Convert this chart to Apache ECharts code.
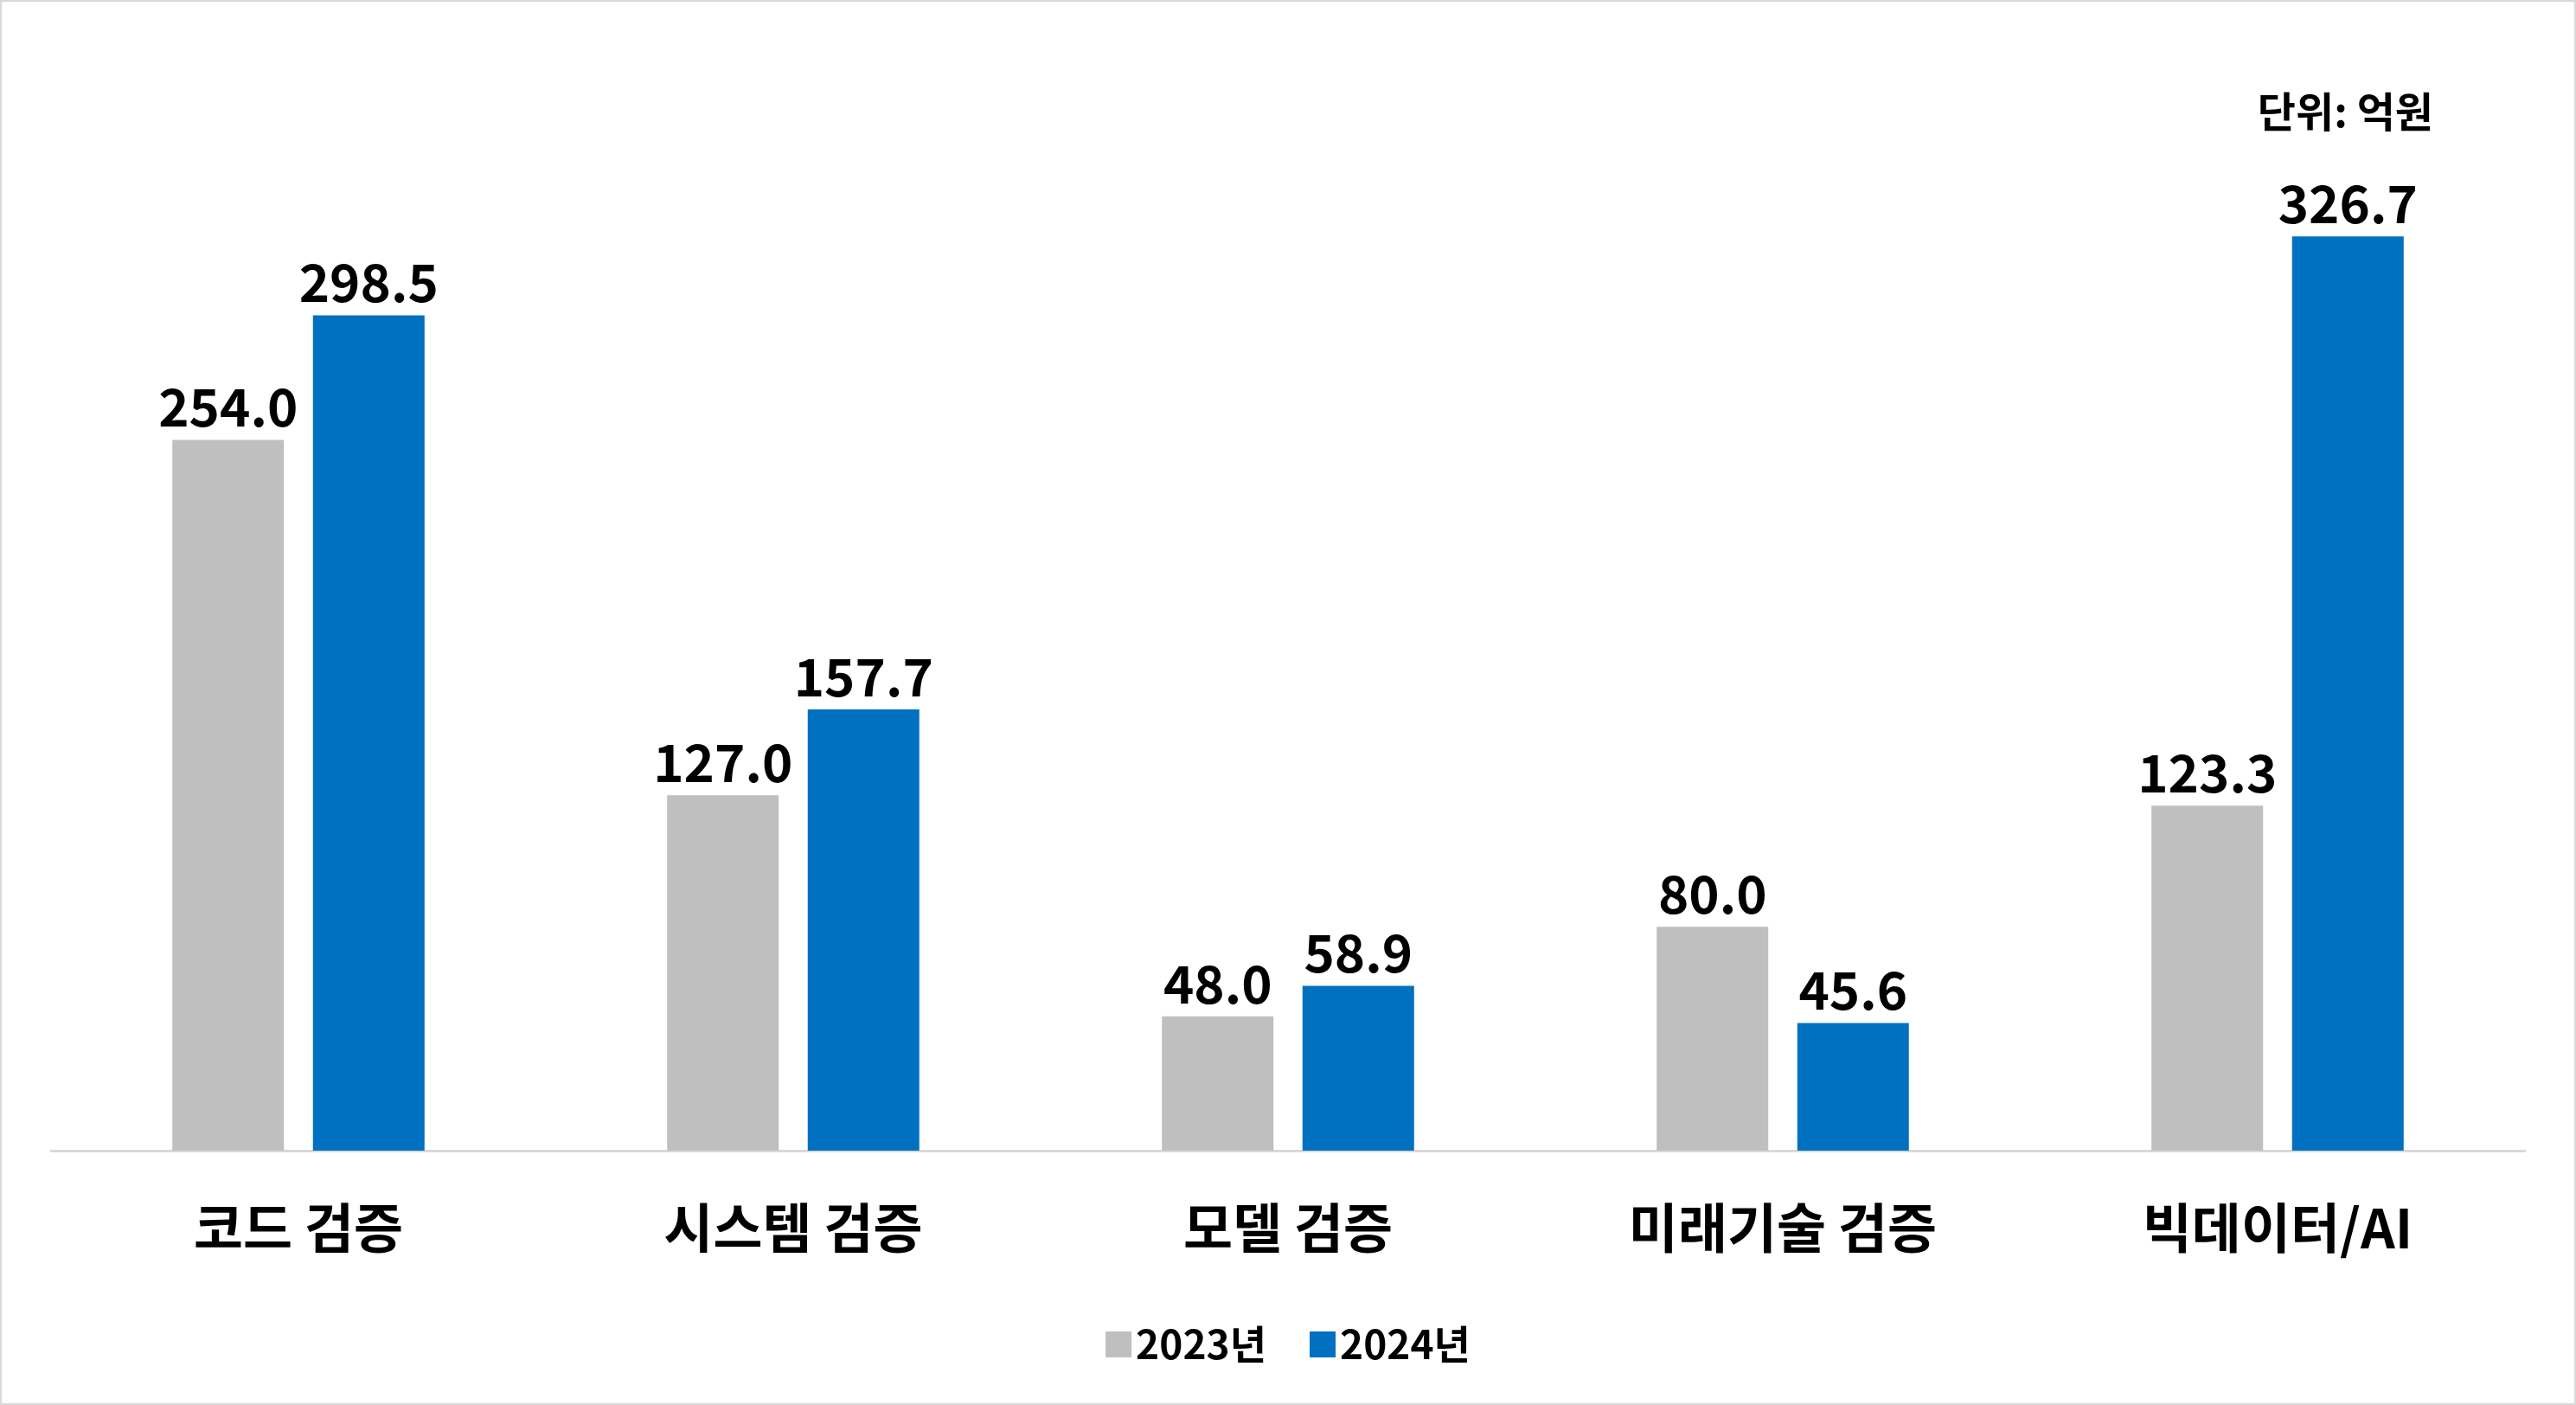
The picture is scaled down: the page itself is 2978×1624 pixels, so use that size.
<!DOCTYPE html>
<html><head><meta charset="utf-8">
<script src="https://cdn.jsdelivr.net/npm/echarts@6/dist/echarts.min.js"></script>
<style>html,body{margin:0;padding:0;background:#fff}#c{width:2974px;height:1620px;border:2px solid #d9d9d9}</style>
</head><body><div id="c"></div>
<script>
const categories = ['코드 검증','시스템 검증','모델 검증','미래기술 검증','빅데이터/AI'];
const s2023 = [254.0,127.0,48.0,80.0,123.3];
const s2024 = [298.5,157.7,58.9,45.6,326.7];
const F = '"Noto Sans CJK KR", "Noto Sans", sans-serif';
const chart = echarts.init(document.getElementById('c'));
const lbl = {show:true,position:'top',distance:8,fontSize:60,fontWeight:'bold',color:'#000',fontFamily:F,formatter:p=>p.value.toFixed(1)};
chart.setOption({
  animation:false,
  textStyle:{fontFamily:F},
  title:{text:'단위: 억원',right:158,top:98,textStyle:{fontSize:48,fontWeight:'bold',color:'#000',fontFamily:F}},
  legend:{bottom:40,left:'center',itemWidth:30,itemHeight:30,itemGap:50,icon:'rect',
    textStyle:{fontSize:46,fontWeight:'bold',color:'#000',fontFamily:F},data:['2023년','2024년']},
  grid:{left:57,right:57,top:196,bottom:292},
  xAxis:{type:'category',data:categories,axisTick:{show:false},
    axisLine:{lineStyle:{color:'#d9d9d9',width:3}},
    axisLabel:{fontSize:62,fontWeight:'bold',color:'#000',margin:58,fontFamily:F}},
  yAxis:{type:'value',min:0,max:350,show:false,splitLine:{show:false}},
  series:[
    {name:'2023년',type:'bar',data:s2023,barWidth:129,barGap:'26%',itemStyle:{color:'#bfbfbf'},label:lbl},
    {name:'2024년',type:'bar',data:s2024,barWidth:129,itemStyle:{color:'#0070c0'},label:lbl}
  ]
});
</script></body></html>
